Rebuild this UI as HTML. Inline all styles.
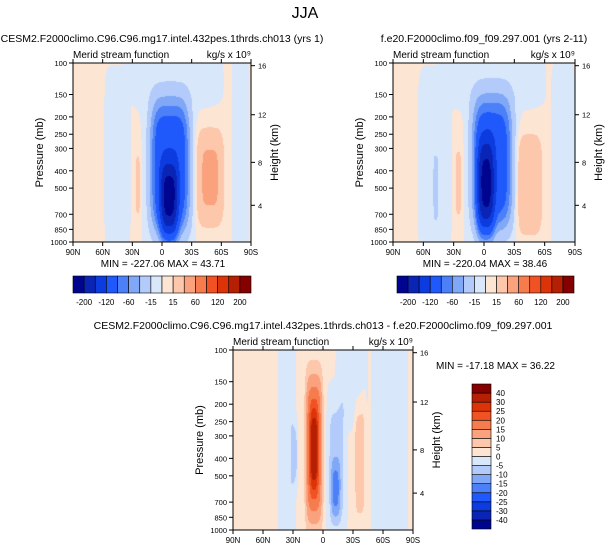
<!DOCTYPE html>
<html><head><meta charset="utf-8"><style>
body{margin:0;background:#fff;}
#root{position:relative;width:611px;height:551px;overflow:hidden;font-family:"Liberation Sans",sans-serif;color:#000;}
svg text{font-family:"Liberation Sans",sans-serif;}
</style></head><body>
<div id="root">
<svg id="svg" width="611" height="551"></svg>
</div>
<script>
// ---- data ----
const latLabels = ["90N","60N","30N","0","30S","60S","90S"];
const pLevels = [100,150,200,250,300,400,500,700,850,1000];
const hLabels = ["4","8","12","16"];
const levelsAbs = [-200,-160,-120,-80,-60,-40,-15,0,15,40,60,80,120,160,200];
const levelsAbsLabels = ["-200","-120","-60","-15","15","60","120","200"];
const levelsDiff = [-40,-30,-25,-20,-15,-10,-5,0,5,10,15,20,25,30,40];
const colors = ["#00058f","#0a25b5","#0c3ce0","#2059fb","#4c80f8","#80a8f7","#b3cbfa","#d9e7fb","#fde5d4","#fcc7ab","#f9a27d","#f67c4e","#f15223","#dc3408","#b51f04","#850000"];
// blobs: [centerU, centerV, sigmaU, sigmaV, amplitude, shapeExponent]
const blobs1 = [[0.545,0.58,0.095,0.32,-110,2],[0.54,0.78,0.04,0.18,-120,1.5],
 [0.77,0.64,0.065,0.23,44,2],[0.365,0.68,0.015,0.22,17,2],
 [0.25,0.55,0.055,0.4,-6,3],[0.58,0.1,0.17,0.12,-6,2],[0.94,0.5,0.035,0.5,-6,3]];
const blobs2 = [[0.545,0.56,0.095,0.32,-105,2],[0.51,0.7,0.038,0.22,-118,1.5],
 [0.75,0.68,0.06,0.24,38,2],[0.36,0.67,0.02,0.24,17,2],[0.235,0.7,0.012,0.17,-18,2],
 [0.23,0.55,0.07,0.4,-6,3],[0.56,0.1,0.18,0.12,-6,2],[0.935,0.55,0.05,0.42,-6,3]];
const blobs3 = [[0.45,0.55,0.042,0.38,20,2],[0.45,0.55,0.017,0.18,16,1.5],
 [0.575,0.64,0.04,0.3,-8,2],[0.57,0.78,0.02,0.13,-10,1.5],
 [0.705,0.6,0.025,0.3,8,2],[0.34,0.58,0.015,0.13,-7,2],
 [0.3,0.5,0.04,0.7,-4,3],[0.66,0.15,0.06,0.2,-4,2],[0.87,0.5,0.08,0.6,-3,3]];
// ---- helpers ----
const NS="http://www.w3.org/2000/svg", svg=document.getElementById('svg');
function el(tag,attrs,parent){const e=document.createElementNS(NS,tag);for(const k in attrs)e.setAttribute(k,attrs[k]);(parent||svg).appendChild(e);return e;}
function txt(x,y,s,size,anchor,name,extra){const t=el('text',Object.assign({x:x,y:y,'font-size':size,'text-anchor':anchor||'middle'},extra||{}));t.textContent=s;


return t;}
function field(blobs,u,v){let f=0.3;for(const b of blobs){const du=(u-b[0])/b[2],dv=(v-b[1])/b[3],q=b[5];
 f+=b[4]*Math.exp(-0.5*Math.pow(du*du,q)-0.5*Math.pow(dv*dv,q));}
 return f;}
function colorFor(val,levels){let i=0;while(i<levels.length&&val>=levels[i])i++;return colors[i];}
const hPos=[0.795,0.555,0.289,0.015];
function panel(x0,y0,w,h,blobs,levels,title,name){
 const g=el('g',{});
 
 
 const fo=el('foreignObject',{x:x0,y:y0,width:w,height:h},g);
 const cv=document.createElement('canvas');cv.width=w;cv.height=h;cv.style.display='block';fo.appendChild(cv);
 
 
 const ctx=cv.getContext('2d');
 for(let py=0;py<h;py++)for(let px=0;px<w;px++){
  ctx.fillStyle=colorFor(field(blobs,(px+0.5)/w,(py+0.5)/h),levels);ctx.fillRect(px,py,1,1);}
 el('rect',{x:x0,y:y0,width:w,height:h,fill:'none',stroke:'#000','stroke-width':1},g);
 const xs=u=>x0+u*w, ys=p=>y0+h*(1-Math.log10(1000/p));
 latLabels.forEach((l,i)=>{const x=xs(i/6);el('line',{x1:x,x2:x,y1:y0+h,y2:y0+h+4,stroke:'#000'},g);el('line',{x1:x,x2:x,y1:y0,y2:y0-4,stroke:'#000'},g);
  txt(x,y0+h+13,l,8,'middle','x-tick-label');});
 pLevels.forEach(p=>{const y=ys(p);el('line',{x1:x0,x2:x0-4,y1:y,y2:y,stroke:'#000'},g);txt(x0-6,y+3,String(p),7.5,'end','pressure-tick-label');});
 hLabels.forEach((l,i)=>{const y=y0+h*hPos[i];el('line',{x1:x0+w,x2:x0+w+4,y1:y,y2:y,stroke:'#000'},g);txt(x0+w+7,y+3,l,7.5,'start','height-tick-label');});
 txt(x0-30,y0+h/2,'Pressure (mb)',11,'middle','y-axis-title',{transform:`rotate(-90 ${x0-30} ${y0+h/2})`});
 txt(x0+w+27,y0+h/2,'Height (km)',11,'middle','right-axis-title',{transform:`rotate(-90 ${x0+w+27} ${y0+h/2})`});
 txt(x0,y0-5,'Merid stream function',10,'start','subplot-title');
 txt(x0+w,y0-5,'kg/s x 10\u2079',10,'end','units-label');
 txt(x0+w/2,y0-21,title,10.5,'middle','panel-title');
}
txt(305,18,'JJA',16,'middle','main-title');
panel(73,63,178,179,blobs1,levelsAbs,'CESM2.F2000climo.C96.C96.mg17.intel.432pes.1thrds.ch013 (yrs 1)','panel-test');
panel(393,63,182,179,blobs2,levelsAbs,'f.e20.F2000climo.f09_f09.297.001 (yrs 2-11)','panel-control');
panel(233,350,180,180,blobs3,levelsDiff,'CESM2.F2000climo.C96.C96.mg17.intel.432pes.1thrds.ch013 - f.e20.F2000climo.f09_f09.297.001','panel-difference');
txt(163,267,'MIN = -227.06  MAX =  43.71',10,'middle','min-max-test');
txt(485,267,'MIN = -220.04  MAX =  38.46',10,'middle','min-max-control');
txt(436,369,'MIN = -17.18  MAX =  36.22',10,'start','min-max-diff');
function hbar(x0,y0,w,h,name){const bw=w/16;colors.forEach((c,i)=>{const r=el('rect',{x:x0+i*bw,y:y0,width:bw,height:h,fill:c,stroke:'#000','stroke-width':0.6});
 });
 levelsAbsLabels.forEach((l,j)=>{txt(x0+(2*j+1)*bw,y0+h+12,l,8,'middle','colorbar-label');});}
hbar(73,276,178,17,'colorbar-test');
hbar(397,276,177,17,'colorbar-control');
const vx=472,vy=384,vw=19,vh=145,bh=vh/16;
colors.forEach((c,i)=>{const r=el('rect',{x:vx,y:vy+vh-(i+1)*bh,width:vw,height:bh,fill:c,stroke:'#000','stroke-width':0.6});
 });
levelsDiff.forEach((l,i)=>{txt(vx+vw+5,vy+vh-(i+1)*bh+3,String(l),8,'start','colorbar-diff-label');});
</script>
</body></html>
